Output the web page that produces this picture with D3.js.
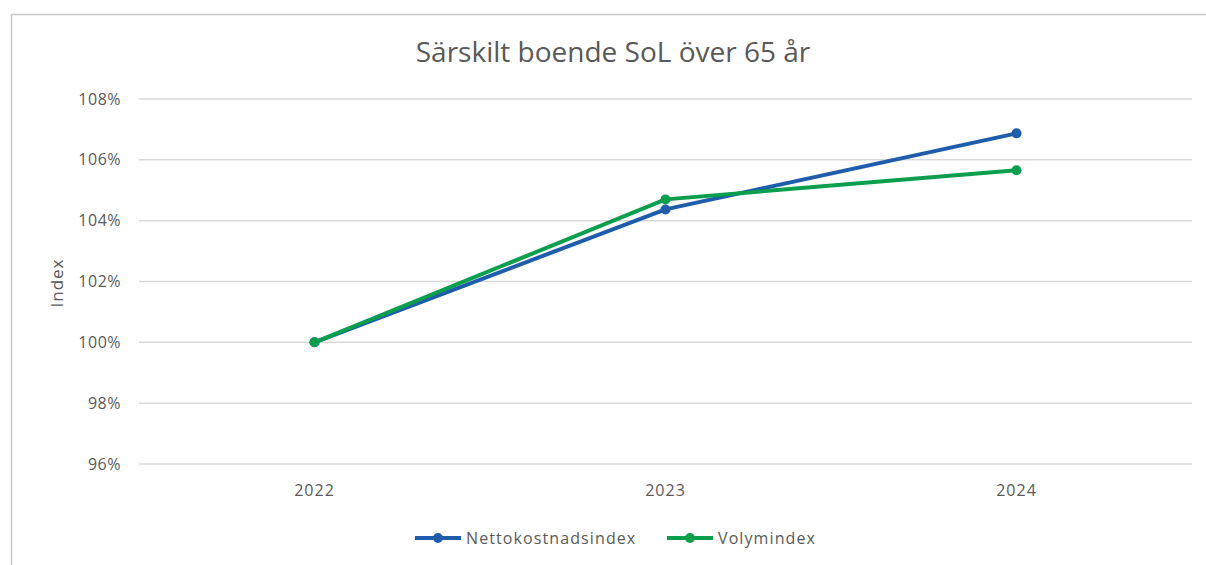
<!DOCTYPE html>
<html>
<head>
<meta charset="utf-8">
<script src="https://cdn.jsdelivr.net/npm/d3@7"></script>
<style>
  body { margin: 0; background: #fff; }
  svg { display: block; font-family: "Open Sans", sans-serif; }
</style>
</head>
<body>
<svg id="plotCanvas" width="1206" height="565"></svg>
<script>
// data
var years = ["2022", "2023", "2024"];
var nettokostnad = [100.0, 104.37, 106.87];
var volym = [100.0, 104.70, 105.66];
var yTicks = [96, 98, 100, 102, 104, 106, 108];
var seriesNames = ["Nettokostnadsindex", "Volymindex"];
var seriesColors = ["#1f5cab", "#0b9e4f"];

var canvasWidth = 1206, canvasHeight = 565;
var canvas = d3.select("#plotCanvas");
var textColor = "#595959";

// outer chart border (only left and top visible in the crop)
canvas.append("path")
    .attr("d", "M11.5,565 L11.5,14.5 L1206,14.5")
    .attr("fill", "none")
    .attr("stroke", "#c8c8c8")
    .attr("stroke-width", 1.5);

var plotLeft = 139, plotRight = 1192, plotTop = 99, plotBottom = 464;

var x = d3.scaleBand().domain(years).range([plotLeft, plotRight]);
var y = d3.scaleLinear().domain([96, 108]).range([plotBottom, plotTop]);

// gridlines
canvas.append("g")
    .selectAll("line")
    .data(yTicks)
    .enter().append("line")
    .attr("x1", plotLeft)
    .attr("x2", plotRight)
    .attr("y1", function(d) { return y(d); })
    .attr("y2", function(d) { return y(d); })
    .attr("stroke", "#d9d9d9")
    .attr("stroke-width", 1.5);

// y axis
var yAxis = canvas.append("g")
    .attr("transform", "translate(" + plotLeft + ",0)")
    .call(d3.axisLeft(y).tickValues(yTicks).tickSize(0).tickPadding(18)
        .tickFormat(function(d) { return d + "%"; }));
yAxis.select(".domain").remove();
yAxis.selectAll("text")
    .attr("fill", textColor)
    .attr("font-size", "16px")
    .attr("letter-spacing", "0.5px")
    .attr("font-family", "Open Sans, sans-serif");

// x axis
var xAxis = canvas.append("g")
    .attr("transform", "translate(0," + plotBottom + ")")
    .call(d3.axisBottom(x).tickSize(0).tickPadding(21));
xAxis.select(".domain").remove();
xAxis.selectAll("text")
    .attr("fill", textColor)
    .attr("font-size", "16px")
    .attr("letter-spacing", "1px")
    .attr("font-family", "Open Sans, sans-serif");

// title
canvas.append("text")
    .attr("x", 613)
    .attr("y", 62)
    .attr("text-anchor", "middle")
    .attr("font-size", "28px")
    .attr("fill", textColor)
    .text("Särskilt boende SoL över 65 år");

// y axis title
canvas.append("text")
    .attr("transform", "translate(63,283) rotate(-90)")
    .attr("text-anchor", "middle")
    .attr("font-size", "17px")
    .attr("letter-spacing", "1px")
    .attr("fill", textColor)
    .text("Index");

// lines
var line = d3.line()
    .x(function(d, i) { return x(years[i]) + x.bandwidth() / 2; })
    .y(function(d) { return y(d); });

var allSeries = [nettokostnad, volym];
allSeries.forEach(function(values, s) {
    var g = canvas.append("g");
    g.append("path")
        .datum(values)
        .attr("d", line)
        .attr("fill", "none")
        .attr("stroke", seriesColors[s])
        .attr("stroke-width", 4)
        .attr("stroke-linejoin", "round");
    g.selectAll("circle")
        .data(values)
        .enter().append("circle")
        .attr("cx", function(d, i) { return x(years[i]) + x.bandwidth() / 2; })
        .attr("cy", function(d) { return y(d); })
        .attr("r", 5)
        .attr("fill", seriesColors[s]);
});

// legend
var legendX = [415, 667];
seriesNames.forEach(function(name, s) {
    var lg = canvas.append("g")
        .attr("transform", "translate(" + legendX[s] + ",538)");
    lg.append("line")
        .attr("x1", 0).attr("x2", 46)
        .attr("y1", 0).attr("y2", 0)
        .attr("stroke", seriesColors[s])
        .attr("stroke-width", 4);
    lg.append("circle")
        .attr("cx", 23).attr("cy", 0).attr("r", 5)
        .attr("fill", seriesColors[s]);
    lg.append("text")
        .attr("x", 51)
        .attr("y", 6)
        .attr("font-size", "16px")
        .attr("letter-spacing", "1.1px")
        .attr("fill", textColor)
        .text(name);
});
</script>
</body>
</html>
